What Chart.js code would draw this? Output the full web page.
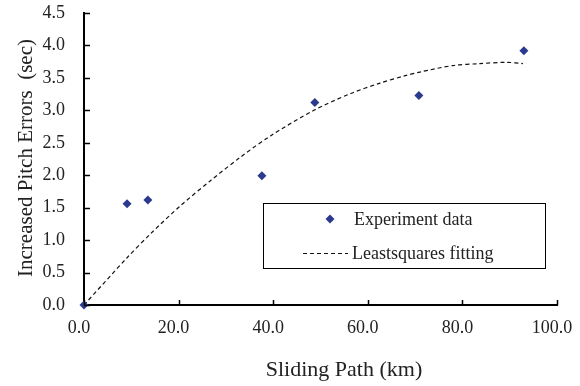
<!DOCTYPE html>
<html>
<head>
<meta charset="utf-8">
<script src="https://cdn.jsdelivr.net/npm/chart.js@4.4.1/dist/chart.umd.min.js"></script>
<style>
  html, body { margin: 0; padding: 0; background: #fff; }
  #wrap { width: 580px; height: 386px; position: relative; }
</style>
</head>
<body>
<div id="wrap"><canvas id="chart" width="580" height="386"></canvas></div>
<script>
// experiment points (km, sec)
const expX = [0, 9.1, 13.5, 37.6, 48.8, 70.8, 93.0];
const expY = [0, 1.56, 1.62, 1.99, 3.12, 3.23, 3.92];

// least squares curve
const fitX = [0, 9.0, 14.1, 20.4, 26.8, 33.1, 39.5, 48.6, 56.4, 62.6, 67.7, 71.0, 78.0, 83.7, 89.4, 92.8];
const fitY = [0, 0.72, 1.10, 1.53, 1.92, 2.28, 2.61, 3.00, 3.26, 3.42, 3.53, 3.59, 3.69, 3.72, 3.74, 3.72];

const xTicks = [0, 20, 40, 60, 80, 100];
const yTicks = [0, 0.5, 1, 1.5, 2, 2.5, 3, 3.5, 4, 4.5];

const seriesNames = ['Experiment data', 'Leastsquares fitting'];
const xTitle = 'Sliding Path (km)';
const yTitle = 'Increased Pitch Errors  (sec)';

const FONT = '"Liberation Serif", "Times New Roman", serif';
const TXT = '#222';
const BLUE = '#2c3a8e';

// small inward tick marks, axis titles and the boxed legend
const extras = {
  id: 'extras',
  afterDraw(chart) {
    const ctx = chart.ctx;
    const xs = chart.scales.x, ys = chart.scales.y;
    const a = chart.chartArea;
    ctx.save();
    ctx.strokeStyle = '#000';
    ctx.lineWidth = 1.5;
    ctx.beginPath();
    yTicks.forEach(v => {
      const y = Math.round(ys.getPixelForValue(v)) + 0.5;
      ctx.moveTo(a.left, y);
      ctx.lineTo(a.left + 6, y);
    });
    xTicks.forEach(v => {
      const x = Math.round(xs.getPixelForValue(v)) + 0.5;
      ctx.moveTo(x, a.bottom);
      ctx.lineTo(x, a.bottom - 5);
    });
    ctx.stroke();

    // axis titles
    ctx.fillStyle = TXT;
    ctx.textAlign = 'center';
    ctx.textBaseline = 'middle';
    ctx.font = '22px ' + FONT;
    ctx.fillText(xTitle, 344, 370);
    ctx.save();
    ctx.translate(26, 158);
    ctx.rotate(-Math.PI / 2);
    ctx.font = '21px ' + FONT;
    ctx.fillText(yTitle, 0, 0);
    ctx.restore();

    // legend box
    ctx.fillStyle = '#fff';
    ctx.fillRect(263.5, 203.5, 282, 65);
    ctx.strokeStyle = '#000';
    ctx.lineWidth = 1;
    ctx.strokeRect(263.5, 203.5, 282, 65);

    const ds = chart.data.datasets;
    // diamond marker
    ctx.fillStyle = ds[0].backgroundColor;
    ctx.beginPath();
    ctx.moveTo(330, 214.5);
    ctx.lineTo(334.5, 219);
    ctx.lineTo(330, 223.5);
    ctx.lineTo(325.5, 219);
    ctx.closePath();
    ctx.fill();
    // dashed sample
    ctx.strokeStyle = ds[1].borderColor;
    ctx.lineWidth = ds[1].borderWidth;
    ctx.setLineDash(ds[1].borderDash);
    ctx.beginPath();
    ctx.moveTo(303, 253.5);
    ctx.lineTo(348, 253.5);
    ctx.stroke();
    ctx.setLineDash([]);

    ctx.fillStyle = TXT;
    ctx.textAlign = 'left';
    ctx.font = '18px ' + FONT;
    ctx.fillText(ds[0].label, 354, 220);
    ctx.fillText(ds[1].label, 352, 254);
    ctx.restore();
  }
};

new Chart(document.getElementById('chart'), {
  type: 'scatter',
  data: {
    datasets: [
      {
        label: seriesNames[0],
        data: expX.map((x, i) => ({ x: x, y: expY[i] })),
        pointStyle: 'rectRot',
        pointRadius: 4.5,
        pointHoverRadius: 4.5,
        backgroundColor: BLUE,
        borderColor: BLUE,
        borderWidth: 0,
        clip: false,
        order: 0
      },
      {
        label: seriesNames[1],
        data: fitX.map((x, i) => ({ x: x, y: fitY[i] })),
        showLine: true,
        pointRadius: 0,
        borderColor: '#111',
        borderWidth: 1.2,
        borderDash: [4, 3],
        tension: 0.3,
        fill: false,
        order: 1
      }
    ]
  },
  options: {
    responsive: false,
    animation: false,
    layout: { padding: { left: 0, right: 23, top: 13, bottom: 0 } },
    plugins: {
      legend: { display: false },
      tooltip: { enabled: false }
    },
    scales: {
      x: {
        type: 'linear',
        min: 0,
        max: 100,
        afterFit(s) { s.height = 81; s.paddingLeft = 0; s.paddingRight = 0; },
        afterBuildTicks(s) { s.ticks = xTicks.map(v => ({ value: v })); },
        grid: { display: false },
        border: { display: true, color: '#000', width: 2 },
        ticks: {
          padding: 4,
          labelOffset: -5,
          color: TXT,
          font: { family: FONT, size: 18 },
          maxRotation: 0,
          callback: v => Number(v).toFixed(1)
        }
      },
      y: {
        type: 'linear',
        min: 0,
        max: 4.5,
        afterFit(s) { s.width = 84; s.paddingTop = 0; s.paddingBottom = 0; },
        afterBuildTicks(s) { s.ticks = yTicks.map(v => ({ value: v })); },
        grid: { display: false },
        border: { display: true, color: '#000', width: 2 },
        ticks: {
          padding: 11,
          color: TXT,
          font: { family: FONT, size: 18 },
          callback: v => Number(v).toFixed(1)
        }
      }
    }
  },
  plugins: [extras]
});
</script>
</body>
</html>
